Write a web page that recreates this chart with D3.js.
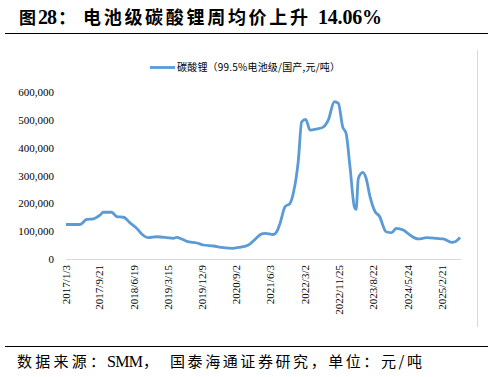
<!DOCTYPE html>
<html>
<head>
<meta charset="utf-8">
<script src="https://cdn.jsdelivr.net/npm/d3@7"></script>
<style>
  body { margin: 0; background: #fff; }
  svg { display: block; }
</style>
</head>
<body>
<div id="chart"></div>
<script>
// weekly average price, battery grade Li2CO3 (yuan/ton)
var dates = ["2017-01-03","2017-04-24","2017-06-16","2017-08-07","2017-09-29","2017-10-25","2017-12-30",
  "2018-02-08","2018-04-01","2018-05-24","2018-07-16","2018-08-24","2018-10-15","2018-12-21",
  "2019-03-10","2019-05-01","2019-05-28","2019-07-06","2019-08-15","2019-11-02","2019-12-24",
  "2020-03-12","2020-05-30","2020-08-17","2020-10-09","2020-12-14",
  "2021-02-05","2021-03-29","2021-04-25","2021-06-29","2021-07-26","2021-08-21","2021-09-30",
  "2021-11-08","2021-12-04","2022-01-13","2022-02-08","2022-03-12","2022-04-15","2022-06-07",
  "2022-07-24","2022-09-07","2022-10-24","2022-11-25","2022-12-29","2023-01-25","2023-02-25",
  "2023-03-31","2023-04-14","2023-05-02","2023-06-06","2023-07-02","2023-08-02","2023-09-11",
  "2023-10-15","2023-12-07","2024-01-21","2024-02-24","2024-04-21","2024-06-13","2024-08-18",
  "2024-10-23","2025-01-10","2025-03-03","2025-05-09","2025-06-04","2025-07-13"];
var prices = [124000,124000,142000,144000,158000,168000,168000,
  152000,150000,130000,110000,90000,76500,80000,
  77000,74000,78000,72000,63500,57500,50300,
  46700,40700,38500,42000,50000,
  70700,90000,92000,88000,98000,128000,188000,
  200000,236000,355000,493000,502000,463000,467000,
  473000,500000,565000,559000,475000,451000,331000,
  188000,178000,290000,311000,290000,224000,170000,
  154000,98000,94500,110000,104000,86000,72000,
  76500,74000,72000,60000,62000,78000];
var tickLabels = ["2017/1/3","2017/9/21","2018/6/19","2019/3/15","2019/12/9","2020/9/2",
  "2021/6/3","2022/3/2","2022/11/25","2023/8/22","2024/5/24","2025/2/21"];
var yTicks = [0,100000,200000,300000,400000,500000,600000];

var W = 495, H = 377;
var parse = d3.timeParse("%Y-%m-%d");
var parseTick = d3.timeParse("%Y/%m/%d");
var data = dates.map(function(d,i){ return {date: parse(d), value: prices[i]}; });

var svg = d3.select("#chart").append("svg")
  .attr("width", W).attr("height", H);

var serif = "'Liberation Serif','Times New Roman',serif";
var cjk = "'Noto Sans CJK SC','Noto Sans',sans-serif";

// pieces of text pinned to where they sit in the original
function piece(txt, x, y, len, font, size, weight) {
  var t = svg.append("text")
    .attr("x", x).attr("y", y)
    .attr("font-family", font).attr("font-size", size)
    .attr("font-weight", weight || "400").attr("fill", "#000")
    .text(txt);
  if (len) t.attr("textLength", len).attr("lengthAdjust", "spacing");
  return t;
}

// title
piece("图", 19, 24, null, cjk, "17px", "700");
piece("28", 38, 24, 19, serif, "20px", "700");
piece("：", 58, 24, null, cjk, "18px", "700");
piece("电池级碳酸锂周均价上升", 83, 24, 225, cjk, "18px", "700");
piece("14.06%", 318, 24, 64, serif, "20px", "700");

svg.append("line").attr("x1", 5).attr("x2", 488).attr("y1", 33.5).attr("y2", 33.5)
  .attr("stroke", "#000").attr("stroke-width", 1);

// chart frame (only the right edge shows)
svg.append("line").attr("x1", 477.5).attr("x2", 477.5).attr("y1", 50).attr("y2", 327)
  .attr("stroke", "#d9d9d9").attr("stroke-width", 1);

var x = d3.scaleTime()
  .domain(d3.extent(data, function(d){ return d.date; }))
  .range([66, 460]);
var y = d3.scaleLinear().domain([0, 600000]).range([259, 92]);

// y axis labels
var yAxis = d3.axisLeft(y).tickValues(yTicks).tickSize(0).tickPadding(0)
  .tickFormat(d3.format(","));
var gy = svg.append("g").attr("transform", "translate(54,0)").call(yAxis)
  .attr("font-family", serif).attr("font-size", "11px");
gy.select(".domain").remove();
gy.selectAll("text").attr("font-family", serif).attr("font-size", "11px").attr("fill", "#000");

// x axis
var xAxis = d3.axisBottom(x)
  .tickValues(tickLabels.map(function(t){ return parseTick(t); }))
  .tickSize(0).tickPadding(0)
  .tickFormat(function(d,i){ return tickLabels[i]; });
var gx = svg.append("g").attr("transform", "translate(0,259)").call(xAxis)
  .attr("font-family", serif).attr("font-size", "11px");
gx.select(".domain").attr("stroke", "#d9d9d9").attr("d", "M66,0.5H461");
gx.selectAll("text")
  .attr("font-family", serif).attr("font-size", "11px").attr("fill", "#000")
  .attr("transform", "rotate(-90)")
  .attr("text-anchor", "end")
  .attr("x", -6).attr("y", 0).attr("dy", "0.35em");

// price line
var line = d3.line()
  .x(function(d){ return x(d.date); })
  .y(function(d){ return y(d.value); })
  .curve(d3.curveMonotoneX);
svg.append("path").datum(data)
  .attr("d", line)
  .attr("fill", "none")
  .attr("stroke", "#5b9bd5")
  .attr("stroke-width", 2.8)
  .attr("stroke-linejoin", "round");

// legend
svg.append("line").attr("x1", 150).attr("x2", 175).attr("y1", 67.5).attr("y2", 67.5)
  .attr("stroke", "#5b9bd5").attr("stroke-width", 2.8);
piece("碳酸锂（99.5%电池级/国产,元/吨）", 177, 71, 163, cjk, "10px");

// source note
svg.append("line").attr("x1", 5).attr("x2", 488).attr("y1", 346.5).attr("y2", 346.5)
  .attr("stroke", "#000").attr("stroke-width", 1);
piece("数据来源：", 17, 367, 88, cjk, "15px");
piece("SMM", 107, 367, 36, serif, "16px");
piece("，", 143, 367, null, cjk, "15px");
piece("国泰海通证券研究，单位：元/吨", 170, 367, 252, cjk, "15px");
</script>
</body>
</html>
